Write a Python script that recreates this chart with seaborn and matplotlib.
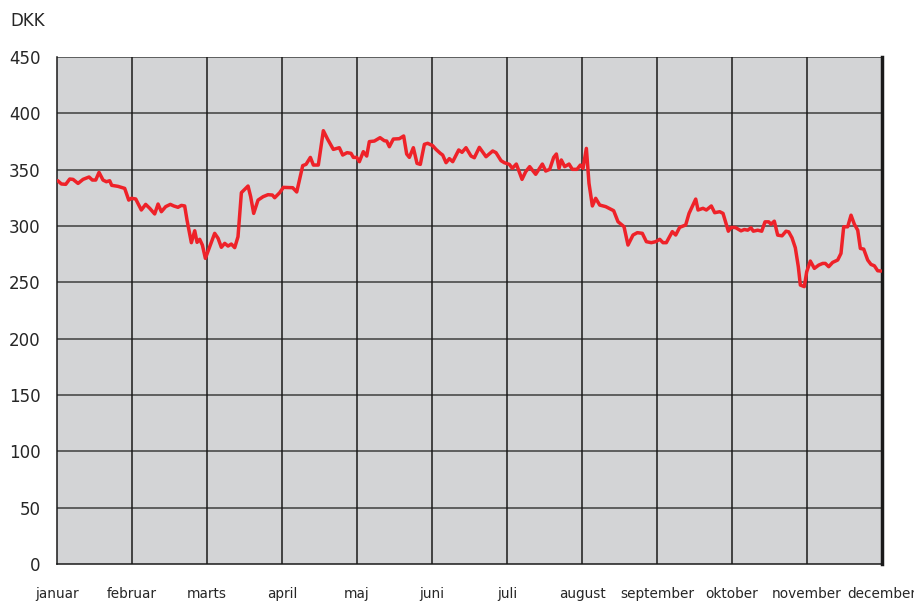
import numpy as np
import pandas as pd
import matplotlib
matplotlib.use("Agg")
import matplotlib.pyplot as plt
import seaborn as sns

# month labels (equal spacing on the axis)
months = ["januar", "februar", "marts", "april", "maj", "juni",
          "juli", "august", "september", "oktober", "november", "december"]

# position in months since 1 January
pos = [0.01, 0.058, 0.116, 0.169, 0.213, 0.28, 0.347, 0.427, 0.471, 0.516,
       0.56, 0.613, 0.658, 0.702, 0.729, 0.813, 0.902, 0.956, 0.991, 1.049,
       1.124, 1.182, 1.236, 1.302, 1.347, 1.391, 1.449, 1.511, 1.556, 1.613,
       1.658, 1.702, 1.733, 1.791, 1.836, 1.867, 1.902, 1.938, 1.978, 2.036,
       2.102, 2.147, 2.191, 2.236, 2.28, 2.324, 2.369, 2.413, 2.458, 2.547,
       2.582, 2.622, 2.68, 2.747, 2.813, 2.871, 2.902, 2.969, 3.018, 3.142,
       3.196, 3.276, 3.32, 3.378, 3.418, 3.484, 3.551, 3.609, 3.684, 3.764,
       3.809, 3.867, 3.92, 3.951, 3.996, 4.031, 4.084, 4.129, 4.164, 4.231,
       4.307, 4.364, 4.396, 4.431, 4.484, 4.564, 4.622, 4.662, 4.698, 4.751,
       4.8, 4.844, 4.898, 4.942, 5.009, 5.053, 5.111, 5.142, 5.187, 5.231,
       5.276, 5.356, 5.4, 5.453, 5.52, 5.564, 5.631, 5.72, 5.809, 5.853,
       5.92, 5.964, 6.031, 6.071, 6.124, 6.2, 6.249, 6.302, 6.382, 6.471,
       6.516, 6.569, 6.622, 6.658, 6.693, 6.724, 6.769, 6.827, 6.871, 6.933,
       6.978, 7.013, 7.058, 7.093, 7.138, 7.182, 7.236, 7.316, 7.422, 7.48,
       7.56, 7.613, 7.68, 7.738, 7.804, 7.858, 7.924, 7.982, 8.036, 8.08,
       8.124, 8.204, 8.249, 8.302, 8.382, 8.427, 8.516, 8.547, 8.613, 8.658,
       8.724, 8.769, 8.836, 8.88, 8.951, 8.987, 9.044, 9.12, 9.164, 9.209,
       9.253, 9.284, 9.342, 9.396, 9.44, 9.489, 9.52, 9.564, 9.609, 9.667,
       9.72, 9.756, 9.8, 9.844, 9.884, 9.911, 9.964, 9.996, 10.044, 10.098,
       10.156, 10.209, 10.244, 10.289, 10.342, 10.409, 10.453, 10.489, 10.542, 10.587,
       10.631, 10.676, 10.711, 10.756, 10.809, 10.853, 10.898, 10.942, 10.987]

# share price, DKK
price = [340.2, 337.3, 337.0, 341.7, 341.4, 337.8, 341.4, 343.5, 340.8, 340.8,
         347.6, 340.8, 339.3, 340.2, 336.1, 335.2, 333.4, 323.0, 324.6, 324.0,
         314.2, 319.2, 315.7, 310.7, 319.5, 312.7, 317.2, 319.2, 317.8, 316.6,
         318.3, 317.8, 305.3, 285.2, 295.8, 285.5, 288.2, 283.1, 271.3, 281.7,
         293.5, 289.1, 281.1, 284.6, 282.2, 284.0, 280.8, 290.5, 329.6, 335.5,
         326.0, 311.2, 323.0, 326.0, 327.8, 327.5, 325.1, 329.6, 334.3, 334.0,
         330.2, 353.6, 354.7, 360.9, 354.1, 354.1, 384.6, 376.9, 368.0, 369.5,
         363.0, 365.1, 364.5, 360.9, 360.9, 357.1, 366.0, 362.1, 374.9, 375.4,
         378.4, 375.7, 375.4, 370.4, 377.2, 377.5, 379.9, 363.9, 360.9, 369.5,
         355.6, 354.7, 372.5, 373.4, 371.3, 368.0, 364.5, 363.0, 356.2, 359.8,
         357.1, 367.5, 365.4, 369.5, 362.1, 360.6, 369.8, 361.5, 366.6, 365.1,
         358.0, 356.2, 354.7, 351.2, 355.0, 341.4, 348.2, 352.7, 345.9, 355.0,
         348.8, 350.3, 360.9, 363.9, 351.2, 358.6, 352.7, 355.0, 350.3, 350.3,
         354.1, 351.2, 368.9, 337.9, 317.8, 324.6, 318.6, 317.2, 313.6, 303.8,
         299.4, 283.1, 292.0, 294.1, 293.5, 286.1, 285.2, 286.1, 288.2, 285.2,
         285.2, 295.0, 292.0, 298.8, 300.9, 311.2, 323.9, 314.2, 315.7, 314.2,
         317.8, 311.8, 312.7, 311.2, 295.4, 298.7, 298.7, 295.7, 296.9, 296.3,
         298.4, 295.4, 296.3, 295.4, 303.7, 303.7, 301.6, 304.3, 291.9, 291.3,
         295.4, 294.8, 289.5, 280.7, 263.9, 247.6, 246.2, 259.4, 268.9, 262.4,
         265.3, 266.8, 266.8, 263.9, 267.7, 269.8, 275.7, 299.3, 299.3, 309.6,
         301.6, 296.3, 280.1, 279.5, 269.8, 265.9, 264.7, 260.3, 260.0]

yticks = [0, 50, 100, 150, 200, 250, 300, 350, 400, 450]

df = pd.DataFrame({"maaned": pos, "kurs": price})

sns.set_style("white")
plt.rcParams["font.family"] = ["DejaVu Sans"]

fig = plt.figure(figsize=(9.14, 6.02), dpi=100)
ax = fig.add_axes([0.0624, 0.0631, 0.9026, 0.8422])
ax.set_facecolor("#d3d4d6")

sns.lineplot(data=df, x="maaned", y="kurs", ax=ax, color="#ee2229",
             linewidth=2.5, zorder=5)

ax.set_xlim(0, 11)
ax.set_ylim(0, 450)
ax.set_xticks(range(len(months)))
ax.set_xticklabels(months, fontsize=9.8)
ax.set_yticks(yticks)
ax.set_yticklabels([str(t) for t in yticks], fontsize=12)
ax.tick_params(axis="x", length=6, width=1, color="#222222", pad=10.5, direction="out")
ax.tick_params(axis="y", length=4, width=1, color="#222222", pad=8, direction="out")
ax.set_xlabel("")
ax.set_ylabel("")

for t in yticks[1:]:
    ax.axhline(t, color="#4a4a4a", linewidth=1.2, zorder=2)
for m in range(1, 11):
    ax.axvline(m, color="#1a1a1a", linewidth=1.1, zorder=2)

ax.spines["top"].set_visible(False)
ax.spines["left"].set_color("#1a1a1a")
ax.spines["bottom"].set_color("#1a1a1a")
ax.spines["right"].set_color("#1a1a1a")
ax.spines["left"].set_linewidth(1.1)
ax.spines["bottom"].set_linewidth(1.1)
ax.spines["right"].set_linewidth(2.5)

fig.text(0.011, 0.965, "DKK", fontsize=12, ha="left", va="center")

fig.savefig("out.png", dpi=100)
